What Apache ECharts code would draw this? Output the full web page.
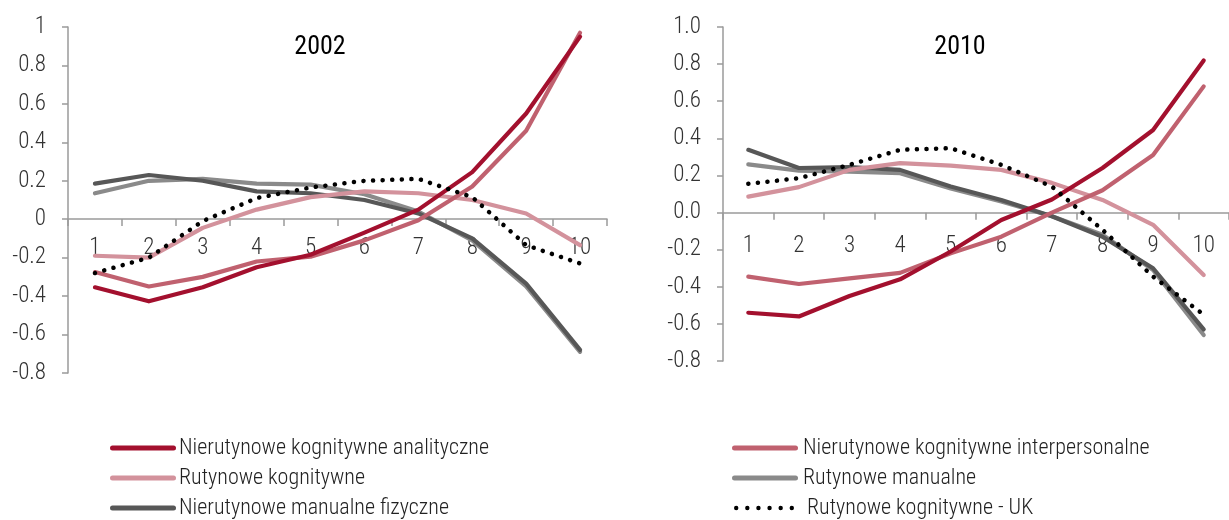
<!DOCTYPE html>
<html><head><meta charset="utf-8">
<script src="https://cdn.jsdelivr.net/npm/echarts@6/dist/echarts.min.js"></script>
<style>html,body{margin:0;padding:0;background:#fff}#c{width:1229px;height:520px}</style>
</head><body><div id="c"></div>
<script>
const categories = ['1','2','3','4','5','6','7','8','9','10'];
const seriesNames = ['Nierutynowe kognitywne analityczne','Nierutynowe kognitywne interpersonalne','Rutynowe kognitywne','Rutynowe manualne','Nierutynowe manualne fizyczne','Rutynowe kognitywne - UK'];
const titles = ['2002','2010'];
// 2002
const a2002 = [-0.354,-0.427,-0.354,-0.25,-0.185,-0.07,0.05,0.245,0.55,0.95];
const i2002 = [-0.275,-0.35,-0.30,-0.22,-0.195,-0.11,-0.005,0.17,0.46,0.97];
const rk2002 = [-0.19,-0.20,-0.045,0.05,0.115,0.145,0.135,0.10,0.03,-0.135];
const rm2002 = [0.135,0.20,0.21,0.185,0.18,0.13,0.04,-0.11,-0.35,-0.69];
const nf2002 = [0.185,0.23,0.20,0.145,0.135,0.10,0.03,-0.10,-0.335,-0.68];
const uk2002 = [-0.28,-0.20,-0.01,0.11,0.165,0.20,0.21,0.115,-0.135,-0.23];
// 2010
const a2010 = [-0.54,-0.56,-0.45,-0.36,-0.21,-0.04,0.07,0.24,0.445,0.82];
const i2010 = [-0.345,-0.385,-0.355,-0.325,-0.22,-0.13,0.0,0.12,0.31,0.68];
const rk2010 = [0.086,0.137,0.23,0.266,0.253,0.23,0.16,0.068,-0.066,-0.336];
const rm2010 = [0.26,0.226,0.221,0.212,0.13,0.06,-0.02,-0.12,-0.31,-0.66];
const nf2010 = [0.338,0.24,0.245,0.23,0.14,0.068,-0.02,-0.13,-0.30,-0.63];
const uk2010 = [0.155,0.185,0.257,0.338,0.347,0.257,0.14,-0.093,-0.345,-0.55];
const yTicks = [-0.8,-0.6,-0.4,-0.2,0,0.2,0.4,0.6,0.8,1.0];

const colors = ['#A3102E','#C0616F','#D3929C','#8A8A8A','#575757','#000000'];
const FONT = '"Roboto Condensed","Liberation Sans Narrow","Roboto",sans-serif';

const solidIcon = 'path://M2.5,0 H63.5 A2.5,2.5 0 0 1 63.5,5 H2.5 A2.5,2.5 0 0 1 2.5,0 Z';
let dots = '';
for (let i = 0; i < 6; i++) { const cx = 2.5 + i*11.6; dots += 'M' + (cx-2.3) + ',2.5 a2.3,2.3 0 1 0 4.6,0 a2.3,2.3 0 1 0 -4.6,0 Z '; }
const dotIcon = 'path://' + dots;

const chart = echarts.init(document.getElementById('c'), null, {renderer:'canvas'});
function mkSeries(gi, arrs){
  const order = [3,4,2,1,0,5];
  return order.map(k => ({
    name: seriesNames[k], type:'line', xAxisIndex:gi, yAxisIndex:gi,
    data: arrs[k], symbol:'none', smooth:false, z: 2+order.indexOf(k),
    lineStyle: k===5 ? {color:colors[k], width:4.5, type:[0.1,9.5], cap:'round'} : {color:colors[k], width:4.2, cap:'round', join:'round'},
    itemStyle:{color:colors[k]}
  }));
}
const axisGray = '#9a9a9a';
function yAxis(gi, fmt, margin){
  return {type:'value', gridIndex:gi, min:yTicks[0], max:yTicks[yTicks.length-1], interval:0.2,
    splitLine:{show:false},
    axisLine:{show:true, lineStyle:{color:axisGray, width:1.5}},
    axisTick:{show:true, length:6, lineStyle:{color:axisGray, width:1.5}},
    axisLabel:{color:'#333', fontSize:23, fontFamily:FONT, fontWeight:300, margin:margin, formatter:fmt}};
}
function xAxis(gi, offset, margin){
  return {type:'category', gridIndex:gi, data:categories, boundaryGap:true, position:'bottom', offset:offset,
    axisLine:{onZero:false, lineStyle:{color:axisGray, width:1.5}},
    axisTick:{show:true, length:7, lineStyle:{color:axisGray, width:1.5}},
    axisLabel:{color:'#333', fontSize:23, fontFamily:FONT, fontWeight:300, margin:margin}};
}
function leg(k, left, top, w, padL){
  return {orient:'horizontal', left:left, top:top, itemWidth:w, itemHeight:5, itemGap:0,
    data:[{name:seriesNames[k], icon: k===5 ? dotIcon : solidIcon}],
    itemStyle:{borderWidth:0},
    textStyle:{fontSize:22, lineHeight:24, color:'#222', fontFamily:FONT, fontWeight:300, padding:[0,0,0,padL]}};
}
chart.setOption({
  animation:false,
  backgroundColor:'#fff',
  title:[
    {text:titles[0], left:315, top:29, textAlign:'center', textStyle:{fontSize:26, fontWeight:'normal', color:'#000', fontFamily:FONT}},
    {text:titles[1], left:955, top:29, textAlign:'center', textStyle:{fontSize:26, fontWeight:'normal', color:'#000', fontFamily:FONT}}
  ],
  grid:[
    {left:68, top:27, width:539, height:346, containLabel:false},
    {left:723, top:27, width:513, height:334, containLabel:false}
  ],
  xAxis:[xAxis(0,-154,18), xAxis(1,-148.3,22)],
  yAxis:[
    yAxis(0, v => (Math.round(v*10)/10).toString(), 22),
    yAxis(1, v => v.toFixed(1), 22)
  ],
  legend:[
    leg(0,105,431,66,-2), leg(2,105,461,66,-2), leg(4,105,491,66,-2),
    leg(1,727,431,70,-2), leg(3,727,461,70,-2), leg(5,729,491,60,8)
  ],
  series:[].concat(
    mkSeries(0,[a2002,i2002,rk2002,rm2002,nf2002,uk2002]),
    mkSeries(1,[a2010,i2010,rk2010,rm2010,nf2010,uk2010])
  )
});
</script></body></html>
